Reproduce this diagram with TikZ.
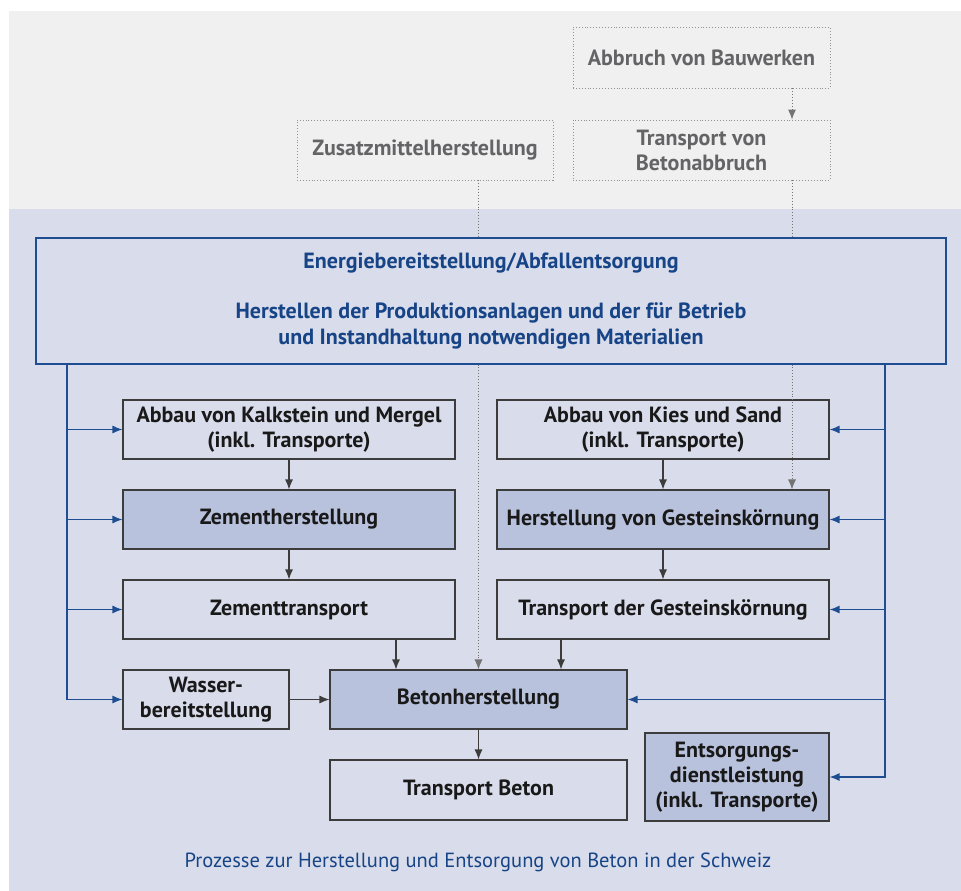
\documentclass[tikz,border=0pt]{standalone}
\usepackage{fontspec}
\setmainfont{PT Sans}
\usetikzlibrary{arrows.meta}

\definecolor{panelgrey}{RGB}{240,240,240}
\definecolor{panelblue}{RGB}{217,220,234}
\definecolor{boxfill}{RGB}{185,194,220}
\definecolor{linkblue}{RGB}{30,78,145}
\definecolor{textblue}{RGB}{22,68,134}
\definecolor{oldgrey}{RGB}{100,100,102}
\definecolor{boxline}{RGB}{60,60,60}

\tikzset{
  proc/.style={draw=boxline, line width=1.1pt, align=center, inner sep=1pt,
    font=\fontsize{22}{25}\selectfont\bfseries, text=black!90},
  mainproc/.style={proc, fill=boxfill},
  oldproc/.style={draw=oldgrey!70, dotted, line width=0.9pt, align=center,
    font=\fontsize{22}{25}\selectfont\bfseries, text=oldgrey},
  flow/.style={draw=boxline, line width=1.1pt, -{Latex[length=10pt,width=8pt]}},
  supply/.style={draw=linkblue, line width=1.2pt, -{Latex[length=10pt,width=8pt]}},
  trace/.style={draw=oldgrey!90, dotted, line width=0.9pt},
}

\begin{document}
\begin{tikzpicture}[x=1pt, y=-1pt]
\useasboundingbox (0,0) rectangle (961,891);
\fill[white] (0,0) rectangle (961,891);
\fill[panelgrey] (9,11) rectangle (961,209);
\fill[panelblue] (9,209) rectangle (961,891);

% demolition chain (grey, dotted)
\node[oldproc, minimum width=257pt, minimum height=61pt] (abbruch) at (701.5,57.5) {Abbruch von Bauwerken};
\node[oldproc, minimum width=256pt, minimum height=60pt] (zusatz) at (425,150) {Zusatzmittelherstellung};
\node[oldproc, minimum width=257pt, minimum height=60pt] (transp) at (701.5,150) {Transport von\\Betonabbruch};

% energy and infrastructure
\node[draw=linkblue, line width=1.1pt, minimum width=910pt, minimum height=126pt, align=center,
  font=\fontsize{22}{26}\selectfont\bfseries, text=textblue] (energie) at (491,301)
  {Energiebereitstellung/Abfallentsorgung\\[24pt]
   Herstellen der Produktionsanlagen und der für Betrieb\\
   und Instandhaltung notwendigen Materialien};

% cement side
\node[proc, minimum width=332pt, minimum height=59pt] (kalk) at (289,429.5) {Abbau von Kalkstein und Mergel\\(inkl. Transporte)};
\node[mainproc, minimum width=332pt, minimum height=59pt] (zement) at (289,519.5) {Zementherstellung};
\node[proc, minimum width=332pt, minimum height=59pt] (ztrans) at (289,609.5) {Zementtransport};

% aggregate side
\node[proc, minimum width=332pt, minimum height=59pt] (kies) at (663,429.5) {Abbau von Kies und Sand\\(inkl. Transporte)};
\node[mainproc, minimum width=332pt, minimum height=59pt] (gestein) at (663,519.5) {Herstellung von Gesteinskörnung};
\node[proc, minimum width=332pt, minimum height=59pt] (gtrans) at (663,609.5) {Transport der Gesteinskörnung};

% concrete
\node[proc, minimum width=166pt, minimum height=59pt] (wasser) at (206,699.5) {Wasser-\\bereitstellung};
\node[mainproc, minimum width=297pt, minimum height=59pt] (beton) at (478.5,699.5) {Betonherstellung};
\node[proc, minimum width=297pt, minimum height=60pt] (tbeton) at (478.5,790) {Transport Beton};
\node[mainproc, minimum width=184pt, minimum height=88pt] (entsorg) at (737,777) {Entsorgungs-\\dienstleistung\\(inkl. Transporte)};

\node[font=\fontsize{20.5}{24}\selectfont, text=textblue] (caption) at (478,862)
  {Prozesse zur Herstellung und Entsorgung von Beton in der Schweiz};

% helper columns
\coordinate (rgx) at (792,0);
\coordinate (lx) at (67,0);
\coordinate (rx) at (885,0);
\coordinate (zx) at (396,0);
\coordinate (gtx) at (561,0);

% dotted traces
\draw[trace, -{Latex[length=10pt,width=8pt]}] (abbruch.south -| rgx) -- (transp.north -| rgx);
\draw[trace] (transp.south -| rgx) -- (energie.north -| rgx);
\draw[trace, -{Latex[length=10pt,width=8pt]}] (energie.south -| rgx) -- (gestein.north -| rgx);
\draw[trace] (zusatz.south -| beton) -- (energie.north -| beton);
\draw[trace, -{Latex[length=10pt,width=8pt]}] (energie.south -| beton) -- (beton.north);

% blue supply lines
\draw[supply] (energie.south -| lx) |- (wasser.west);
\draw[supply] (lx |- kalk.west) -- (kalk.west);
\draw[supply] (lx |- zement.west) -- (zement.west);
\draw[supply] (lx |- ztrans.west) -- (ztrans.west);
\draw[supply] (energie.south -| rx) |- (entsorg.east);
\draw[supply] (rx |- kies.east) -- (kies.east);
\draw[supply] (rx |- gestein.east) -- (gestein.east);
\draw[supply] (rx |- gtrans.east) -- (gtrans.east);
\draw[supply] (rx |- beton.east) -- (beton.east);

% material flow
\draw[flow] (kalk) -- (zement);
\draw[flow] (zement) -- (ztrans);
\draw[flow] (ztrans.south -| zx) -- (beton.north -| zx);
\draw[flow] (kies) -- (gestein);
\draw[flow] (gestein) -- (gtrans);
\draw[flow] (gtrans.south -| gtx) -- (beton.north -| gtx);
\draw[flow] (wasser) -- (beton);
\draw[flow] (beton) -- (tbeton);
\end{tikzpicture}
\end{document}
